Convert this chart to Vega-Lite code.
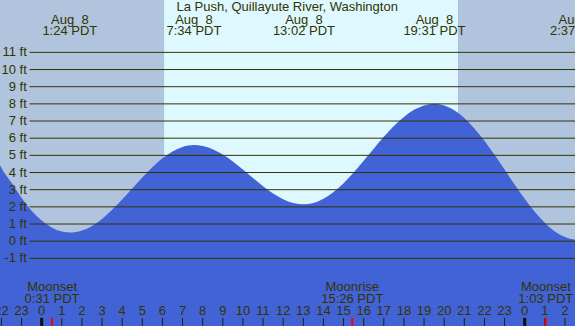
{
  "$schema": "https://vega.github.io/schema/vega-lite/v6.json",
  "width": 575,
  "height": 326,
  "padding": 0,
  "autosize": {"type": "none"},
  "background": "#4263d6",
  "config": {"view": {"stroke": null}},
  "datasets": {
    "tide": [
      {"t": -2.07, "h": 4.42}, {"t": -2, "h": 4.27}, {"t": -1.5, "h": 3.4}, {"t": -1, "h": 2.53},
      {"t": -0.5, "h": 1.78}, {"t": 0, "h": 1.2}, {"t": 0.5, "h": 0.8}, {"t": 1, "h": 0.56},
      {"t": 1.4, "h": 0.5}, {"t": 2, "h": 0.62}, {"t": 2.5, "h": 0.89}, {"t": 3, "h": 1.3},
      {"t": 3.5, "h": 1.83}, {"t": 4, "h": 2.43}, {"t": 4.5, "h": 3.07}, {"t": 5, "h": 3.71},
      {"t": 5.5, "h": 4.31}, {"t": 6, "h": 4.83}, {"t": 6.5, "h": 5.23}, {"t": 7, "h": 5.49},
      {"t": 7.567, "h": 5.6}, {"t": 8, "h": 5.55}, {"t": 8.5, "h": 5.36}, {"t": 9, "h": 5.05},
      {"t": 9.5, "h": 4.64}, {"t": 10, "h": 4.17}, {"t": 10.5, "h": 3.68}, {"t": 11, "h": 3.2},
      {"t": 11.5, "h": 2.78}, {"t": 12, "h": 2.45}, {"t": 12.5, "h": 2.23}, {"t": 13.033, "h": 2.15},
      {"t": 13.5, "h": 2.22}, {"t": 14, "h": 2.47}, {"t": 14.5, "h": 2.86}, {"t": 15, "h": 3.38},
      {"t": 15.5, "h": 4.0}, {"t": 16, "h": 4.69}, {"t": 16.5, "h": 5.39}, {"t": 17, "h": 6.08},
      {"t": 17.5, "h": 6.71}, {"t": 18, "h": 7.24}, {"t": 18.5, "h": 7.65}, {"t": 19, "h": 7.91},
      {"t": 19.517, "h": 8.0}, {"t": 20, "h": 7.91}, {"t": 20.5, "h": 7.63}, {"t": 21, "h": 7.18},
      {"t": 21.5, "h": 6.57}, {"t": 22, "h": 5.85}, {"t": 22.5, "h": 5.03}, {"t": 23, "h": 4.17},
      {"t": 23.5, "h": 3.3}, {"t": 24, "h": 2.47}, {"t": 24.5, "h": 1.71}, {"t": 25, "h": 1.07},
      {"t": 25.5, "h": 0.57}, {"t": 26, "h": 0.25}, {"t": 26.5, "h": 0.105}, {"t": 26.617, "h": 0.1}
    ],
    "sky": [
      {"start": -2.07, "end": 6.08, "kind": "night"},
      {"start": 6.08, "end": 20.69, "kind": "day"},
      {"start": 20.69, "end": 26.6, "kind": "night"}
    ],
    "levels": [
      {"ft": -1, "label": "-1 ft"}, {"ft": 0, "label": "0 ft"}, {"ft": 1, "label": "1 ft"},
      {"ft": 2, "label": "2 ft"}, {"ft": 3, "label": "3 ft"}, {"ft": 4, "label": "4 ft"},
      {"ft": 5, "label": "5 ft"}, {"ft": 6, "label": "6 ft"}, {"ft": 7, "label": "7 ft"},
      {"ft": 8, "label": "8 ft"}, {"ft": 9, "label": "9 ft"}, {"ft": 10, "label": "10 ft"},
      {"ft": 11, "label": "11 ft"}
    ],
    "hours": [
      {"t": -2, "label": "22"}, {"t": -1, "label": "23"}, {"t": 0, "label": "0"}, {"t": 1, "label": "1"},
      {"t": 2, "label": "2"}, {"t": 3, "label": "3"}, {"t": 4, "label": "4"}, {"t": 5, "label": "5"},
      {"t": 6, "label": "6"}, {"t": 7, "label": "7"}, {"t": 8, "label": "8"}, {"t": 9, "label": "9"},
      {"t": 10, "label": "10"}, {"t": 11, "label": "11"}, {"t": 12, "label": "12"}, {"t": 13, "label": "13"},
      {"t": 14, "label": "14"}, {"t": 15, "label": "15"}, {"t": 16, "label": "16"}, {"t": 17, "label": "17"},
      {"t": 18, "label": "18"}, {"t": 19, "label": "19"}, {"t": 20, "label": "20"}, {"t": 21, "label": "21"},
      {"t": 22, "label": "22"}, {"t": 23, "label": "23"}, {"t": 24, "label": "0"}, {"t": 25, "label": "1"},
      {"t": 26, "label": "2"}
    ],
    "midnights": [{"t": 0}, {"t": 24}],
    "moon": [
      {"t": 0.517, "event": "Moonset", "time": "0:31 PDT"},
      {"t": 15.433, "event": "Moonrise", "time": "15:26 PDT"},
      {"t": 25.05, "event": "Moonset", "time": "1:03 PDT"}
    ],
    "extremes": [
      {"t": 1.4, "date": "Aug\u00a0\u00a08", "time": "1:24 PDT"},
      {"t": 7.567, "date": "Aug\u00a0\u00a08", "time": "7:34 PDT"},
      {"t": 13.033, "date": "Aug\u00a0\u00a08", "time": "13:02 PDT"},
      {"t": 19.517, "date": "Aug\u00a0\u00a08", "time": "19:31 PDT"},
      {"t": 26.617, "date": "Aug\u00a0\u00a08", "time": "2:37 PDT"}
    ],
    "title": [{"t": 12.2, "text": "La Push, Quillayute River, Washington"}]
  },
  "layer": [
    {
      "data": {"name": "sky"},
      "mark": {"type": "rect"},
      "encoding": {
        "x": {"field": "start", "type": "quantitative", "scale": {"domain": [-2.07, 26.5], "nice": false, "zero": false}, "axis": null},
        "x2": {"field": "end"},
        "color": {"field": "kind", "type": "nominal", "scale": {"domain": ["night", "day"], "range": ["#b0c4de", "#ddf8ff"]}, "legend": null}
      }
    },
    {
      "data": {"name": "tide"},
      "mark": {"type": "area", "interpolate": "monotone", "color": "#4263d6", "clip": true},
      "encoding": {
        "x": {"field": "t", "type": "quantitative"},
        "y": {"field": "h", "type": "quantitative", "scale": {"domain": [-4.94, 14.05], "nice": false, "zero": false}, "axis": null},
        "y2": {"datum": -4.94}
      }
    },
    {
      "data": {"name": "levels"},
      "mark": {"type": "rule", "color": "#333300", "strokeWidth": 1},
      "encoding": {
        "x": {"datum": -0.6},
        "x2": {"datum": 26.5},
        "y": {"field": "ft", "type": "quantitative"}
      }
    },
    {
      "data": {"name": "levels"},
      "mark": {"type": "text", "align": "right", "baseline": "middle", "font": "Liberation Sans", "fontSize": 13, "color": "#333300"},
      "encoding": {
        "x": {"datum": -0.74},
        "y": {"field": "ft", "type": "quantitative"},
        "text": {"field": "label"}
      }
    },
    {
      "data": {"name": "hours"},
      "mark": {"type": "rule", "color": "#222200", "strokeWidth": 1},
      "encoding": {
        "x": {"field": "t", "type": "quantitative"},
        "y": {"datum": -4.47},
        "y2": {"datum": -4.94}
      }
    },
    {
      "data": {"name": "midnights"},
      "mark": {"type": "rule", "color": "#111100", "strokeWidth": 3},
      "encoding": {
        "x": {"field": "t", "type": "quantitative"},
        "y": {"datum": -4.47},
        "y2": {"datum": -4.94}
      }
    },
    {
      "data": {"name": "moon"},
      "mark": {"type": "rule", "color": "#ff0000", "strokeWidth": 2},
      "encoding": {
        "x": {"field": "t", "type": "quantitative"},
        "y": {"datum": -4.47},
        "y2": {"datum": -4.94}
      }
    },
    {
      "data": {"name": "hours"},
      "mark": {"type": "text", "align": "center", "baseline": "middle", "font": "Liberation Sans", "fontSize": 13, "color": "#333300"},
      "encoding": {
        "x": {"field": "t", "type": "quantitative"},
        "y": {"datum": -4.06},
        "text": {"field": "label"}
      }
    },
    {
      "data": {"name": "moon"},
      "mark": {"type": "text", "align": "center", "baseline": "middle", "font": "Liberation Sans", "fontSize": 13, "color": "#333300"},
      "encoding": {
        "x": {"field": "t", "type": "quantitative"},
        "y": {"datum": -2.67},
        "text": {"field": "event"}
      }
    },
    {
      "data": {"name": "moon"},
      "mark": {"type": "text", "align": "center", "baseline": "middle", "font": "Liberation Sans", "fontSize": 13, "color": "#333300"},
      "encoding": {
        "x": {"field": "t", "type": "quantitative"},
        "y": {"datum": -3.35},
        "text": {"field": "time"}
      }
    },
    {
      "data": {"name": "extremes"},
      "mark": {"type": "text", "align": "center", "baseline": "middle", "font": "Liberation Sans", "fontSize": 13, "color": "#333300"},
      "encoding": {
        "x": {"field": "t", "type": "quantitative"},
        "y": {"datum": 12.88},
        "text": {"field": "date"}
      }
    },
    {
      "data": {"name": "extremes"},
      "mark": {"type": "text", "align": "center", "baseline": "middle", "font": "Liberation Sans", "fontSize": 13, "color": "#333300"},
      "encoding": {
        "x": {"field": "t", "type": "quantitative"},
        "y": {"datum": 12.22},
        "text": {"field": "time"}
      }
    },
    {
      "data": {"name": "title"},
      "mark": {"type": "text", "align": "center", "baseline": "middle", "font": "Liberation Sans", "fontSize": 13, "color": "#333300"},
      "encoding": {
        "x": {"field": "t", "type": "quantitative"},
        "y": {"datum": 13.66},
        "text": {"field": "text"}
      }
    }
  ]
}
